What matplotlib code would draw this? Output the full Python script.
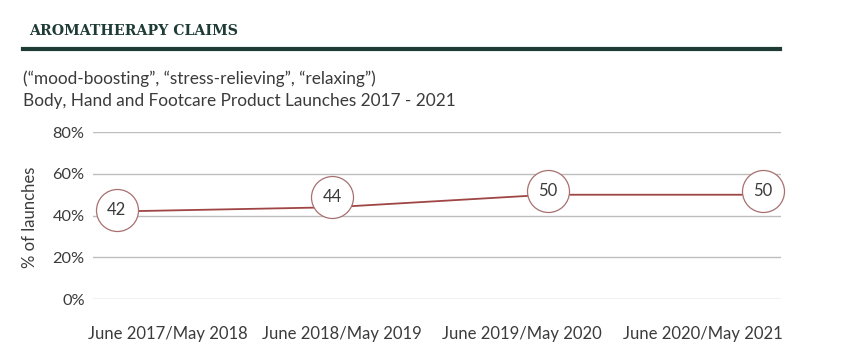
import matplotlib
matplotlib.use("Agg")
import matplotlib.pyplot as plt
import matplotlib.transforms as mtransforms
import numpy as np

# ---- data ----
categories = ["June 2017/May 2018", "June 2018/May 2019",
              "June 2019/May 2020", "June 2020/May 2021"]
values = [42, 44, 50, 50]
labels = ["42", "44", "50", "50"]
yticks = [0, 20, 40, 60, 80]
ytick_labels = ["0%", "20%", "40%", "60%", "80%"]

title = "AROMATHERAPY CLAIMS"
subtitle1 = "(\u201cmood-boosting\u201d, \u201cstress-relieving\u201d, \u201crelaxing\u201d)"
subtitle2 = "Body, Hand and Footcare Product Launches 2017 - 2021"
ylabel = "% of launches"

# ---- style ----
FONT = "Lato"
TEXT = "#3b3b3b"
LINE = "#a04545"
CIRC = "#a87070"
GRID = "#bdbdbd"
DARK = "#1e3b35"

W, H = 848, 359
fig = plt.figure(figsize=(W / 100, H / 100), dpi=100)

def fx(px):
    return px / W

def fy(py):
    return 1 - py / H

ax = fig.add_axes([fx(93), fy(299.3), fx(781 - 93), fy(132) - fy(299.3)])
x = np.arange(len(categories))
ax.set_xlim(-0.110, 3.084)
ax.set_ylim(0, 80)

ax.plot(x, values, color=LINE, lw=1.3, zorder=2)

# circles with labels (slight upward offsets as in original)
offsets_px = [1, 10, 4, 4]
for xi, v, lab, off in zip(x, values, labels, offsets_px):
    tr = mtransforms.offset_copy(ax.transData, fig=fig, x=0, y=off * 0.72, units="points")
    ax.scatter([xi], [v], s=(42 * 0.72) ** 2, facecolor="white", edgecolor=CIRC,
               linewidth=0.9, zorder=3, transform=tr, clip_on=False)
    ax.text(xi, v, lab, transform=tr, ha="center", va="center", fontsize=12,
            color=TEXT, family=FONT, zorder=4)

ax.set_yticks(yticks)
ax.set_yticklabels(ytick_labels, family=FONT, fontsize=11.8, color=TEXT)
ax.grid(axis="y", color=GRID, lw=1)
ax.set_axisbelow(True)
for s in ax.spines.values():
    s.set_visible(False)
ax.tick_params(axis="y", length=0, pad=6)

# category labels are spread evenly under the plot
label_pos = [0.238, 1.046, 1.882, 2.722]
ax.set_xticks(label_pos)
ax.set_xticklabels(categories, family=FONT, fontsize=12, color=TEXT)
ax.tick_params(axis="x", length=0, pad=19)

fig.text(fx(30), fy(217.5), ylabel, rotation=90, ha="center", va="center",
         family=FONT, fontsize=12, color=TEXT)

# header
fig.text(fx(29), fy(31), title, ha="left", va="center", family="DejaVu Serif",
         fontweight="bold", fontsize=10.2, color=DARK)
fig.add_artist(plt.Line2D([fx(23), fx(780)], [fy(48.7), fy(48.7)], color=DARK, lw=3))
fig.text(fx(23), fy(79), subtitle1, ha="left", va="center", family=FONT,
         fontsize=12.4, color=TEXT)
fig.text(fx(23), fy(101), subtitle2, ha="left", va="center", family=FONT,
         fontsize=12.4, color=TEXT)

fig.savefig("out.png", dpi=100, facecolor="white")
